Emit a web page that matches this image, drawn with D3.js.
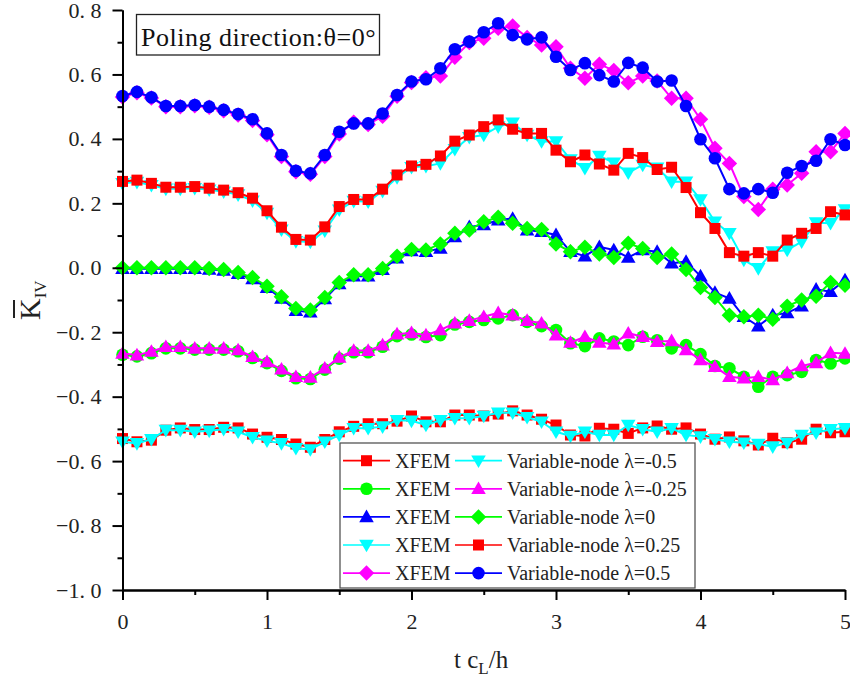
<!DOCTYPE html>
<html>
<head>
<meta charset="utf-8">
<script src="https://cdn.jsdelivr.net/npm/d3@7"></script>
<style>
  html, body { margin: 0; padding: 0; background: #fff; }
  svg { display: block; }
  svg text { font-family: "Liberation Serif", "DejaVu Serif", serif; }
</style>
</head>
<body>
<svg id="chart" width="850" height="684"></svg>
<script>
// Normalised time t·cL/h at which the dynamic SIF was sampled
const tValues = [0.0, 0.1, 0.2, 0.3, 0.4, 0.5, 0.6, 0.7, 0.8, 0.9,
  1.0, 1.1, 1.2, 1.3, 1.4, 1.5, 1.6, 1.7, 1.8, 1.9,
  2.0, 2.1, 2.2, 2.3, 2.4, 2.5, 2.6, 2.7, 2.8, 2.9,
  3.0, 3.1, 3.2, 3.3, 3.4, 3.5, 3.6, 3.7, 3.8, 3.9,
  4.0, 4.1, 4.2, 4.3, 4.4, 4.5, 4.6, 4.7, 4.8, 4.9, 5.0];

// XFEM reference results (one curve per λ level)
const xfemM050 = [-0.530, -0.540, -0.535, -0.504, -0.497, -0.502, -0.502, -0.495, -0.497, -0.516,
  -0.526, -0.533, -0.547, -0.557, -0.533, -0.509, -0.492, -0.484, -0.484, -0.476,
  -0.460, -0.478, -0.478, -0.457, -0.457, -0.460, -0.454, -0.444, -0.457, -0.470,
  -0.488, -0.519, -0.522, -0.498, -0.501, -0.514, -0.497, -0.491, -0.501, -0.497,
  -0.516, -0.532, -0.525, -0.537, -0.550, -0.529, -0.543, -0.532, -0.501, -0.512, -0.509];
const xfemM025 = [-0.270, -0.275, -0.265, -0.250, -0.250, -0.254, -0.254, -0.254, -0.259, -0.280,
  -0.296, -0.320, -0.343, -0.345, -0.316, -0.282, -0.262, -0.262, -0.245, -0.212,
  -0.207, -0.215, -0.209, -0.176, -0.168, -0.162, -0.157, -0.147, -0.168, -0.181,
  -0.193, -0.234, -0.243, -0.219, -0.229, -0.240, -0.214, -0.225, -0.250, -0.240,
  -0.268, -0.305, -0.312, -0.338, -0.369, -0.338, -0.333, -0.323, -0.286, -0.297, -0.281];
const xfemZero = [-0.003, -0.003, -0.003, -0.003, -0.003, -0.003, -0.005, -0.008, -0.018, -0.035,
  -0.062, -0.095, -0.133, -0.138, -0.097, -0.050, -0.026, -0.026, -0.006, 0.030,
  0.052, 0.050, 0.060, 0.096, 0.127, 0.133, 0.148, 0.153, 0.117, 0.112,
  0.102, 0.050, 0.036, 0.065, 0.055, 0.032, 0.055, 0.050, 0.014, 0.019,
  -0.026, -0.077, -0.095, -0.152, -0.181, -0.147, -0.140, -0.119, -0.067, -0.074, -0.038];
const xfemP025 = [0.262, 0.266, 0.256, 0.245, 0.245, 0.247, 0.242, 0.236, 0.227, 0.208,
  0.170, 0.118, 0.082, 0.080, 0.115, 0.180, 0.207, 0.205, 0.238, 0.280,
  0.312, 0.315, 0.324, 0.368, 0.405, 0.412, 0.438, 0.450, 0.412, 0.392,
  0.392, 0.336, 0.309, 0.347, 0.326, 0.295, 0.319, 0.310, 0.267, 0.267,
  0.212, 0.143, 0.107, 0.024, -0.002, 0.050, 0.055, 0.081, 0.140, 0.138, 0.181];
const xfemP050 = [0.530, 0.543, 0.527, 0.500, 0.500, 0.503, 0.498, 0.487, 0.474, 0.457,
  0.413, 0.345, 0.298, 0.290, 0.345, 0.415, 0.452, 0.445, 0.470, 0.532,
  0.575, 0.590, 0.595, 0.653, 0.699, 0.712, 0.743, 0.750, 0.715, 0.691,
  0.686, 0.619, 0.588, 0.632, 0.612, 0.574, 0.595, 0.580, 0.526, 0.526,
  0.461, 0.371, 0.324, 0.221, 0.181, 0.244, 0.257, 0.293, 0.360, 0.360, 0.417];

// Variable-node element results
const vnM050 = [-0.540, -0.545, -0.532, -0.504, -0.504, -0.509, -0.506, -0.501, -0.509, -0.526,
  -0.537, -0.545, -0.560, -0.564, -0.540, -0.519, -0.498, -0.498, -0.493, -0.473,
  -0.475, -0.488, -0.473, -0.467, -0.467, -0.460, -0.450, -0.450, -0.464, -0.478,
  -0.509, -0.522, -0.509, -0.519, -0.519, -0.488, -0.501, -0.509, -0.498, -0.519,
  -0.524, -0.532, -0.540, -0.543, -0.547, -0.555, -0.543, -0.519, -0.512, -0.501, -0.498];
const vnM025 = [-0.266, -0.271, -0.260, -0.245, -0.245, -0.250, -0.250, -0.250, -0.255, -0.276,
  -0.292, -0.315, -0.338, -0.340, -0.312, -0.278, -0.257, -0.257, -0.240, -0.206,
  -0.202, -0.209, -0.193, -0.172, -0.164, -0.152, -0.140, -0.147, -0.164, -0.172,
  -0.209, -0.232, -0.214, -0.232, -0.237, -0.203, -0.214, -0.229, -0.227, -0.255,
  -0.286, -0.307, -0.338, -0.343, -0.338, -0.348, -0.326, -0.305, -0.295, -0.264, -0.266];
const vnZero = [0.000, 0.000, 0.000, 0.000, 0.000, 0.000, -0.002, -0.005, -0.015, -0.030,
  -0.057, -0.090, -0.126, -0.131, -0.092, -0.046, -0.022, -0.022, -0.002, 0.036,
  0.057, 0.055, 0.074, 0.107, 0.117, 0.143, 0.157, 0.138, 0.122, 0.119,
  0.074, 0.050, 0.064, 0.043, 0.032, 0.076, 0.060, 0.032, 0.043, -0.005,
  -0.061, -0.092, -0.147, -0.152, -0.147, -0.160, -0.119, -0.100, -0.088, -0.046, -0.054];
const vnP025 = [0.268, 0.272, 0.262, 0.250, 0.250, 0.252, 0.247, 0.241, 0.233, 0.216,
  0.177, 0.126, 0.088, 0.086, 0.127, 0.190, 0.212, 0.212, 0.244, 0.288,
  0.316, 0.321, 0.347, 0.393, 0.412, 0.438, 0.459, 0.430, 0.417, 0.417,
  0.365, 0.329, 0.350, 0.322, 0.303, 0.355, 0.342, 0.305, 0.312, 0.249,
  0.171, 0.122, 0.047, 0.036, 0.047, 0.036, 0.086, 0.107, 0.122, 0.174, 0.164];
const vnP050 = [0.533, 0.546, 0.529, 0.502, 0.502, 0.505, 0.500, 0.490, 0.477, 0.461,
  0.417, 0.350, 0.301, 0.293, 0.350, 0.422, 0.448, 0.448, 0.479, 0.536,
  0.578, 0.585, 0.619, 0.678, 0.702, 0.731, 0.759, 0.722, 0.709, 0.715,
  0.655, 0.614, 0.635, 0.598, 0.578, 0.636, 0.621, 0.578, 0.581, 0.502,
  0.399, 0.340, 0.244, 0.231, 0.244, 0.233, 0.295, 0.316, 0.332, 0.399, 0.381];

// Axis ticks
const xTicks = [0, 1, 2, 3, 4, 5];
const xMinorTicks = [0.5, 1.5, 2.5, 3.5, 4.5];
const yTicks = [-1.0, -0.8, -0.6, -0.4, -0.2, 0.0, 0.2, 0.4, 0.6, 0.8];
const yMinorTicks = [-0.9, -0.7, -0.5, -0.3, -0.1, 0.1, 0.3, 0.5, 0.7];

// Legend labels
const xfemLabel = "XFEM";
const vnLabels = ["Variable-node λ=-0.5", "Variable-node λ=-0.25", "Variable-node λ=0",
  "Variable-node λ=0.25", "Variable-node λ=0.5"];

const SERIF = '"Liberation Serif", "DejaVu Serif", serif';

// ---- marker shapes ----
const symDiamond = {
  draw(ctx, size) {
    const r = Math.sqrt(size / 2);
    ctx.moveTo(0, -r); ctx.lineTo(r, 0); ctx.lineTo(0, r); ctx.lineTo(-r, 0); ctx.closePath();
  }
};
const symTriUp = {
  draw(ctx, size) {
    const s = Math.sqrt(size * 4 / Math.sqrt(3)); // side length
    const h = s * Math.sqrt(3) / 2;
    ctx.moveTo(0, -h / 2 - 1); ctx.lineTo(s / 2, h / 2 - 1); ctx.lineTo(-s / 2, h / 2 - 1); ctx.closePath();
  }
};
const symTriDown = {
  draw(ctx, size) {
    const s = Math.sqrt(size * 4 / Math.sqrt(3));
    const h = s * Math.sqrt(3) / 2;
    ctx.moveTo(0, h / 2 + 1); ctx.lineTo(s / 2, -h / 2 + 1); ctx.lineTo(-s / 2, -h / 2 + 1); ctx.closePath();
  }
};
const shapes = {
  square: [d3.symbolSquare, 121],
  circle: [d3.symbolCircle, 125],
  triUp: [symTriUp, 92],
  triDown: [symTriDown, 92],
  diamond: [symDiamond, 120]
};

const RED = "#ff0000", GREEN = "#00ff00", BLUE = "#0000ff", CYAN = "#00ffff", MAGENTA = "#ff00ff";

const series = [
  { label: xfemLabel, values: xfemM050, color: RED, shape: "square" },
  { label: xfemLabel, values: xfemM025, color: GREEN, shape: "circle" },
  { label: xfemLabel, values: xfemZero, color: BLUE, shape: "triUp" },
  { label: xfemLabel, values: xfemP025, color: CYAN, shape: "triDown" },
  { label: xfemLabel, values: xfemP050, color: MAGENTA, shape: "diamond" },
  { label: vnLabels[0], values: vnM050, color: CYAN, shape: "triDown" },
  { label: vnLabels[1], values: vnM025, color: MAGENTA, shape: "triUp" },
  { label: vnLabels[2], values: vnZero, color: GREEN, shape: "diamond" },
  { label: vnLabels[3], values: vnP025, color: RED, shape: "square" },
  { label: vnLabels[4], values: vnP050, color: BLUE, shape: "circle" }
];

const svg = d3.select("#chart");
const x = d3.scaleLinear().domain([0, 5]).range([122.5, 845]);
const y = d3.scaleLinear().domain([-1.0, 0.8]).range([590, 10]);

const fmtY = d => (d < 0 ? "\u2212" : "") + Math.abs(d).toFixed(1).replace(".", ". ");

// ---- curves ----
const line = d3.line().x((d, i) => x(tValues[i])).y(d => y(d));
const plot = svg.append("g");
series.forEach(s => {
  const g = plot.append("g");
  g.append("path").datum(s.values)
    .attr("d", line).attr("fill", "none")
    .attr("stroke", s.color).attr("stroke-width", 2);
  const [type, size] = shapes[s.shape];
  g.selectAll("path.m").data(s.values).join("path")
    .attr("class", "m")
    .attr("transform", (d, i) => `translate(${x(tValues[i])},${y(d)})`)
    .attr("d", d3.symbol().type(type).size(size))
    .attr("fill", s.color);
});

// ---- axes ----
const axisStyle = g => {
  g.attr("font-family", null);
  g.select(".domain").attr("stroke", "#000").attr("stroke-width", 2);
  g.selectAll(".tick line").attr("stroke", "#000").attr("stroke-width", 2);
  g.selectAll(".tick text").attr("fill", "#222").attr("font-size", 22)
    .style("font-family", SERIF);
};
svg.append("g").attr("transform", "translate(122.5,0)")
  .call(d3.axisLeft(y).tickValues(yMinorTicks).tickSize(5).tickFormat("").tickSizeOuter(0))
  .call(axisStyle);
svg.append("g").attr("transform", "translate(122.5,0)")
  .call(d3.axisLeft(y).tickValues(yTicks).tickSize(10).tickPadding(11).tickFormat(fmtY).tickSizeOuter(0))
  .call(axisStyle);
svg.append("g").attr("transform", "translate(0,590)")
  .call(d3.axisBottom(x).tickValues(xMinorTicks).tickSize(5).tickFormat("").tickSizeOuter(0))
  .call(axisStyle);
svg.append("g").attr("transform", "translate(0,590)")
  .call(d3.axisBottom(x).tickValues(xTicks).tickSize(10).tickPadding(13).tickFormat(d3.format("d")).tickSizeOuter(0))
  .call(axisStyle);

// ---- axis titles ----
const xt = svg.append("text").attr("x", 454).attr("y", 668)
  .attr("font-size", 25).attr("fill", "#222").style("font-family", SERIF);
xt.append("tspan").text("t c");
xt.append("tspan").attr("font-size", 17).attr("dy", 5.5).text("L");
xt.append("tspan").attr("dy", -5.5).text("/h");

const yt = svg.append("g").attr("transform", "translate(40,320) rotate(-90)");
yt.append("text").attr("x", 0).attr("y", 0).attr("font-size", 30).attr("fill", "#222")
  .style("font-family", SERIF)
  .call(t => {
    t.append("tspan").text("K");
    t.append("tspan").attr("font-size", 17).attr("dy", 6).text("IV");
  });
yt.append("line").attr("x1", 2).attr("x2", 20).attr("y1", -26).attr("y2", -26)
  .attr("stroke", "#222").attr("stroke-width", 2);

// ---- annotation box ----
svg.append("rect").attr("x", 136.5).attr("y", 14.5).attr("width", 243).attr("height", 40.5)
  .attr("fill", "#fff").attr("stroke", "#222").attr("stroke-width", 1.3);
svg.append("text").attr("x", 141).attr("y", 45.5).attr("font-size", 26).attr("fill", "#111")
  .attr("letter-spacing", 0.5)
  .style("font-family", SERIF)
  .text("Poling direction:θ=0°");

// ---- legend ----
const lg = svg.append("g");
lg.append("rect").attr("x", 340).attr("y", 443).attr("width", 355).attr("height", 145)
  .attr("fill", "#fff").attr("stroke", "#555").attr("stroke-width", 1.3);
const rowY = i => 460.7 + i * 28.1;
const cols = [{ x0: 343, x1: 390, tx: 395 }, { x0: 455, x1: 502, tx: 507 }];
series.forEach((s, k) => {
  const c = cols[k < 5 ? 0 : 1];
  const r = k % 5;
  const yy = rowY(r);
  lg.append("line").attr("x1", c.x0).attr("x2", c.x1).attr("y1", yy).attr("y2", yy)
    .attr("stroke", s.color).attr("stroke-width", 1.7);
  const [type, size] = shapes[s.shape];
  lg.append("path").attr("transform", `translate(${(c.x0 + c.x1) / 2},${yy})`)
    .attr("d", d3.symbol().type(type).size(size)).attr("fill", s.color);
  lg.append("text").attr("x", c.tx).attr("y", yy + 7).attr("font-size", 20).attr("fill", "#222")
    .style("font-family", SERIF)
    .text(s.label);
});
</script>
</body>
</html>
